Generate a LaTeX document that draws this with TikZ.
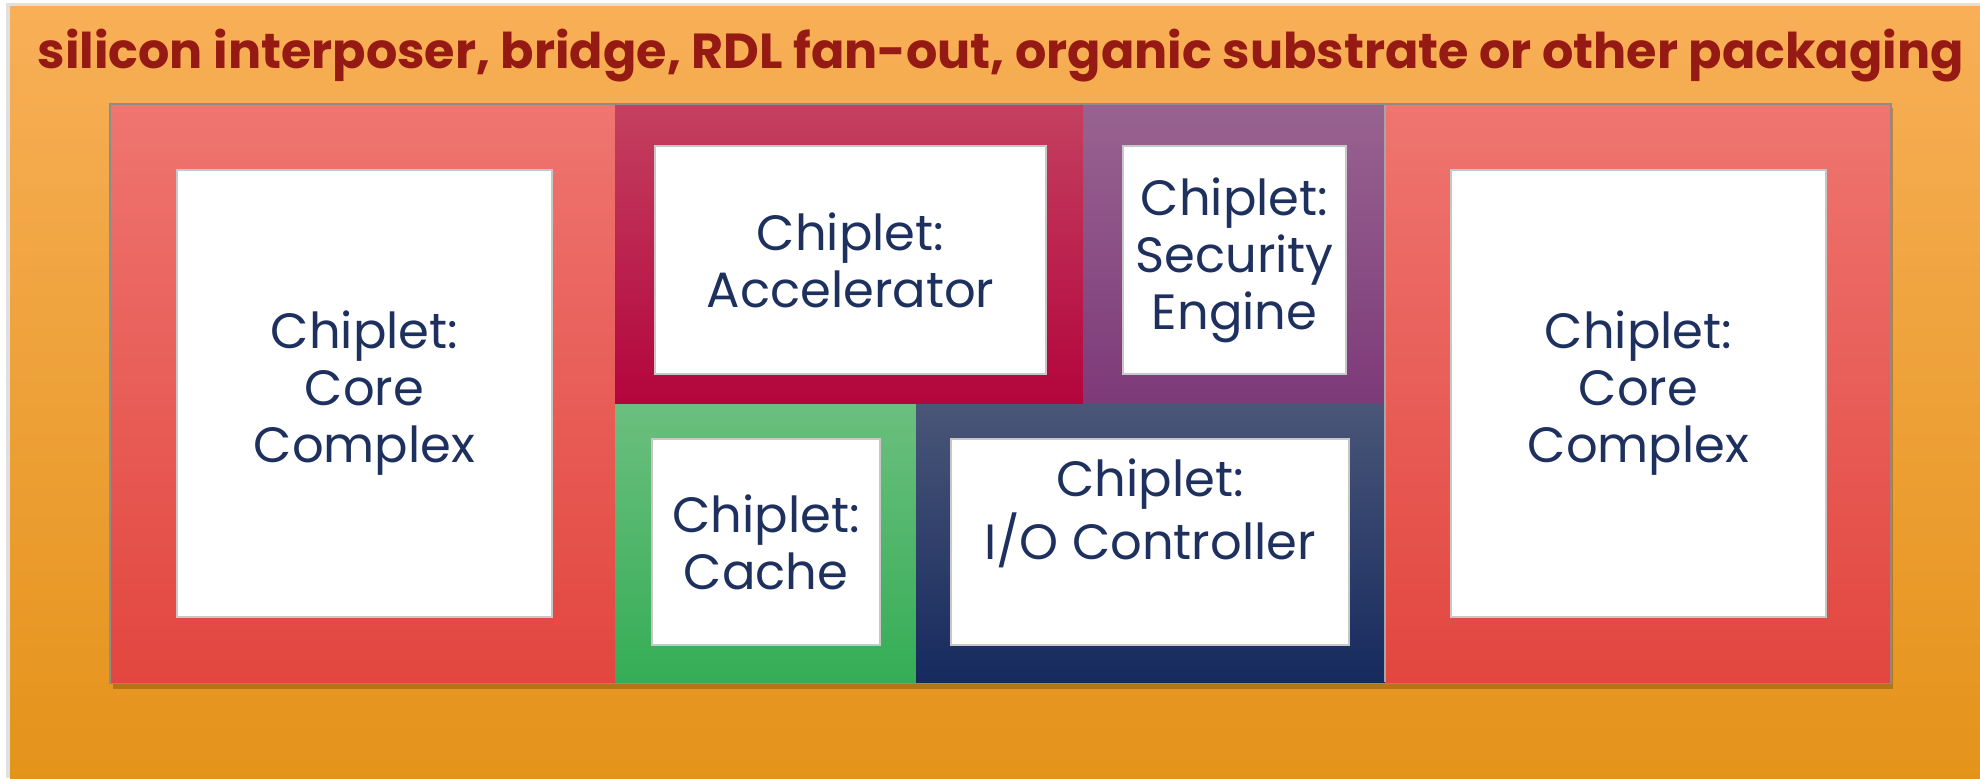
\documentclass[tikz,border=0pt]{standalone}
\usepackage{fontspec}
\setmainfont{Poppins}
\usepackage{tikz}
\usetikzlibrary{positioning}
\definecolor{padtop}{RGB}{248,175,87}
\definecolor{padmid}{RGB}{250,165,56}
\definecolor{padbot}{RGB}{228,147,26}
\definecolor{titlered}{RGB}{150,26,20}
\definecolor{inkblue}{RGB}{30,48,94}
\definecolor{coretop}{RGB}{239,117,112}
\definecolor{corebot}{RGB}{226,70,63}
\definecolor{acceltop}{RGB}{196,64,96}
\definecolor{accelbot}{RGB}{179,5,61}
\definecolor{sectop}{RGB}{152,99,144}
\definecolor{secbot}{RGB}{125,58,121}
\definecolor{cachetop}{RGB}{107,191,126}
\definecolor{cachebot}{RGB}{53,173,86}
\definecolor{iotop}{RGB}{74,86,120}
\definecolor{iobot}{RGB}{22,42,94}

\tikzset{
  die/.style 2 args={top color=#1, bottom color=#2, draw=none},
  window/.style={fill=white, draw=black!22, line width=0.6pt, inner sep=0pt},
  chiplabel/.style={text=inkblue, align=center, inner sep=0pt,
    font=\fontsize{14.1}{16.2}\selectfont},
}

\begin{document}
\begin{tikzpicture}[x=0.01cm, y=-0.01cm]
  \useasboundingbox[fill=white] (0,0) rectangle (1980,778);

  % package / substrate
  \fill[black!12] (6,3) rectangle (1980,778);
  \shade[top color=padtop, middle color=padmid, bottom color=padbot] (10,6) rectangle (1980,778);
  \node[anchor=base west, text=titlered, inner sep=0pt,
    font=\bfseries\fontsize{14}{16}\selectfont] (title) at (37,68)
    {silicon interposer, bridge, RDL fan-out, organic substrate or other packaging};

  % shadow and outline of the chiplet area
  \fill[black, opacity=0.22] (113,108) rectangle (1893,689);
  \draw[black!45, line width=1.2pt] (111,105) rectangle (1890,682);

  % chiplets
  \shade[die={coretop}{corebot}] (111,105) rectangle (615,682);
  \shade[die={acceltop}{accelbot}] (615,105) rectangle (1083,404);
  \shade[die={sectop}{secbot}] (1083,105) rectangle (1385,404);
  \shade[die={cachetop}{cachebot}] (615,404) rectangle (916,682);
  \shade[die={iotop}{iobot}] (916,404) rectangle (1385,682);
  \shade[die={coretop}{corebot}] (1385,105) rectangle (1890,682);
  \draw[black!35, line width=0.6pt] (1385,105) -- (1385,682);

  % windows
  \node[window, minimum width=3.75cm, minimum height=4.47cm] (lcore) at (364.5,393.5) {};
  \node[window, minimum width=3.91cm, minimum height=2.28cm] (accel) at (850.5,260) {};
  \node[window, minimum width=2.23cm, minimum height=2.28cm] (secu) at (1234.5,260) {};
  \node[window, minimum width=2.28cm, minimum height=2.06cm] (cache) at (766,542) {};
  \node[window, minimum width=3.98cm, minimum height=2.06cm] (ioctl) at (1150,542) {};
  \node[window, minimum width=3.75cm, minimum height=4.47cm] (rcore) at (1638.5,393.5) {};
  \coordinate (iomid) at (1150,513);

  % labels
  \node[chiplabel] (lcoretext) at (lcore) {Chiplet:\\Core\\Complex};
  \node[chiplabel] (acceltext) at (accel) {Chiplet:\\Accelerator};
  \node[chiplabel] (secutext) at (secu) {Chiplet:\\Security\\Engine};
  \node[chiplabel] (cachetext) at (cache) {Chiplet:\\Cache};
  \node[chiplabel] (ioctltext) at (iomid) {Chiplet:\\I/O Controller};
  \node[chiplabel] (rcoretext) at (rcore) {Chiplet:\\Core\\Complex};
\end{tikzpicture}
\end{document}
